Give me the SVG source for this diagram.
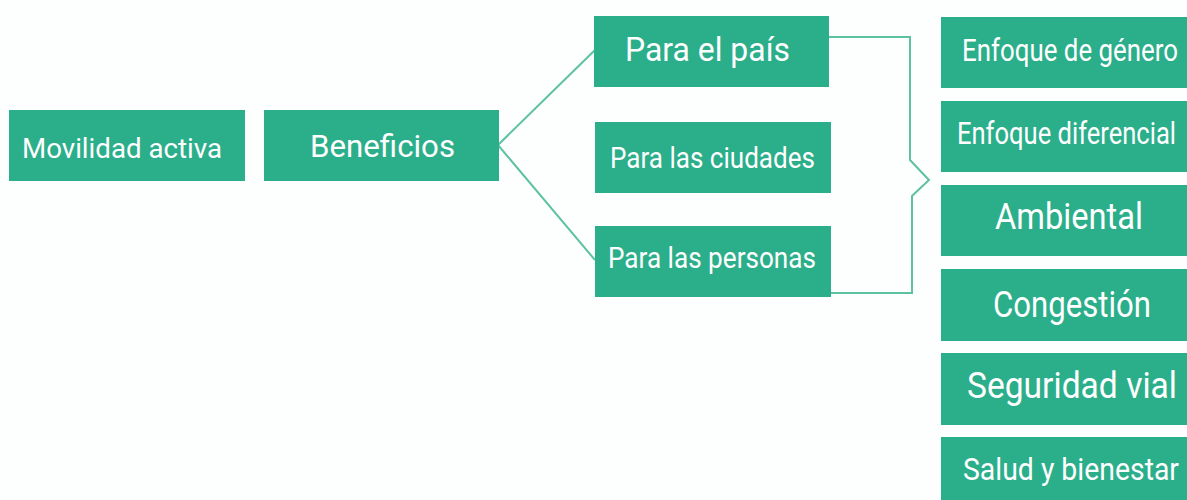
<svg xmlns="http://www.w3.org/2000/svg" width="1187" height="500" viewBox="0 0 1187 500">
<style>
.box{fill:#2bae8a}
.t{font-family:Roboto,"Liberation Sans",sans-serif;fill:#ffffff}
.c{fill:none;stroke:#5cc2a2;stroke-width:2}
</style>
<rect width="1187" height="500" fill="#fdfefe"/>
<g id="connectors">
<path class="c" d="M498 145 L595 50"/>
<path class="c" d="M498 145 L595 260"/>
<path class="c" d="M829 37 L910 37 L910 160 L929 180 L912 196 L912 293 L830 293"/>
</g>
<g id="movilidad"><rect class="box" x="9" y="110" width="236" height="71"/><text class="t" x="22" y="158" font-size="28" textLength="200" lengthAdjust="spacingAndGlyphs">Movilidad activa</text></g>
<g id="beneficios"><rect class="box" x="264" y="110" width="235" height="71"/><text class="t" x="310" y="157" font-size="32" textLength="145" lengthAdjust="spacingAndGlyphs">Beneficios</text></g>
<g id="pais"><rect class="box" x="594" y="16" width="235" height="71"/><text class="t" x="625" y="61" font-size="33" textLength="165" lengthAdjust="spacingAndGlyphs">Para el país</text></g>
<g id="ciudades"><rect class="box" x="595" y="122" width="236" height="71"/><text class="t" x="610" y="168" font-size="29" textLength="205" lengthAdjust="spacingAndGlyphs">Para las ciudades</text></g>
<g id="personas"><rect class="box" x="595" y="226" width="236" height="71"/><text class="t" x="608" y="268" font-size="29" textLength="208" lengthAdjust="spacingAndGlyphs">Para las personas</text></g>
<g id="genero"><rect class="box" x="941" y="17" width="246" height="71"/><text class="t" x="962" y="61" font-size="31" textLength="216" lengthAdjust="spacingAndGlyphs">Enfoque de género</text></g>
<g id="diferencial"><rect class="box" x="941" y="101" width="246" height="71"/><text class="t" x="957" y="144" font-size="31" textLength="219" lengthAdjust="spacingAndGlyphs">Enfoque diferencial</text></g>
<g id="ambiental"><rect class="box" x="941" y="185" width="246" height="71"/><text class="t" x="995" y="229" font-size="37" textLength="148" lengthAdjust="spacingAndGlyphs">Ambiental</text></g>
<g id="congestion"><rect class="box" x="941" y="269" width="246" height="72"/><text class="t" x="993" y="317" font-size="37" textLength="158" lengthAdjust="spacingAndGlyphs">Congestión</text></g>
<g id="seguridad"><rect class="box" x="941" y="353" width="246" height="72"/><text class="t" x="967" y="398" font-size="37" textLength="210" lengthAdjust="spacingAndGlyphs">Seguridad vial</text></g>
<g id="salud"><rect class="box" x="941" y="437" width="246" height="63"/><text class="t" x="963" y="480" font-size="31" textLength="216" lengthAdjust="spacingAndGlyphs">Salud y bienestar</text></g>
</svg>
